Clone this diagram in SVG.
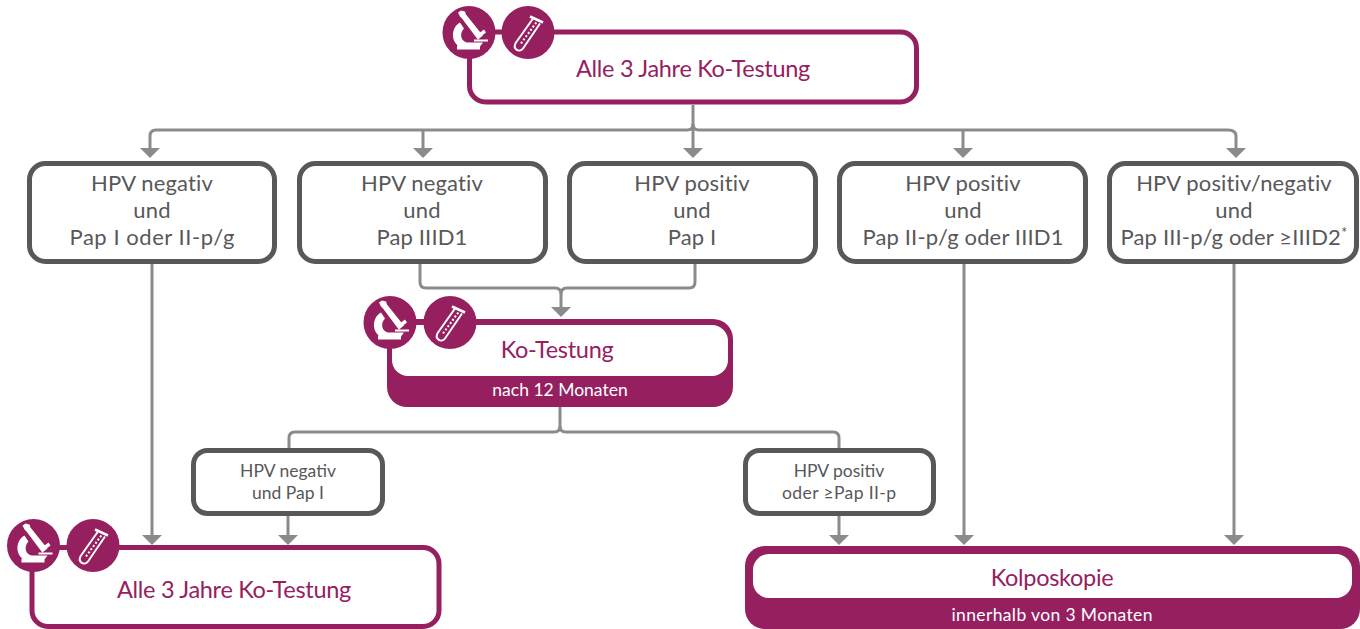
<svg xmlns="http://www.w3.org/2000/svg" width="1360" height="629" viewBox="0 0 1360 629">
<style>
text{font-family:"Lato","Open Sans","Liberation Sans",sans-serif;text-anchor:middle}
.g{fill:#fff;stroke:#58585a;stroke-width:5}
.p{fill:#fff;stroke:#96205f;stroke-width:5}
.gt{fill:#58585a;font-size:22px;letter-spacing:.15px}
.st{fill:#58585a;font-size:17.500px}
.pt{fill:#96205f;font-size:23.500px;letter-spacing:-.3px}
.wt{fill:#fff;font-size:17.500px}
.c{fill:none;stroke:#8a8b8c;stroke-width:3}
</style>
<defs>
<marker id="a" markerUnits="userSpaceOnUse" markerWidth="10" markerHeight="20" refX="0" refY="10" orient="auto" viewBox="0 0 10 20"><path d="M0 0L10 10L0 20Z" fill="#8a8b8c"/></marker>
<g id="mic"><circle r="26.500" fill="#96205f"/><path d="M-11-20l3-2 4 1 1 3 16 20 1 1-5 4-1-1L-7-14l-2-2zM11 0l4-3 2 3-4 3zM-9-10C-18-5-18 8-11 13H-12V17H11V14L14 10H-2C-8 9-10 1-5-4zM5 7H19V9H5z" fill="#fff"/></g>
<g id="tube"><circle r="26.500" fill="#96205f"/><path d="M5-14L-12 10C-16 16-9 21-5 16L12-9" fill="none" stroke="#fff" stroke-width="2"/><path d="M2-16L15-10" stroke="#fff" stroke-width="2.500"/><path d="M-7 11L9-11" stroke="#fff" stroke-width="2" stroke-dasharray="2 2"/></g>
</defs>
<g id="connectors">
<path class="c" d="M693 105V124Q693 130 687 130H156Q150 130 150 136V148" marker-end="url(#a)"/>
<path class="c" d="M423 130V148" marker-end="url(#a)"/>
<path class="c" d="M693 124V148" marker-end="url(#a)"/>
<path class="c" d="M693 124Q693 130 699 130H1228Q1236 130 1236 136V148" marker-end="url(#a)"/>
<path class="c" d="M963 130V148" marker-end="url(#a)"/>
<path class="c" d="M152 264V535" marker-end="url(#a)"/>
<path class="c" d="M964 264V535" marker-end="url(#a)"/>
<path class="c" d="M1234 264V535" marker-end="url(#a)"/>
<path class="c" d="M420 264V282Q420 288 426 288H555Q561 288 561 294V307" marker-end="url(#a)"/>
<path class="c" d="M695 264V282Q695 288 689 288H567Q561 288 561 294"/>
<path class="c" d="M560 407V426Q560 432 554 432H295Q289 432 289 438V448"/>
<path class="c" d="M560 426Q560 432 566 432H833Q839 432 839 438V448"/>
<path class="c" d="M288 516V535" marker-end="url(#a)"/>
<path class="c" d="M839 516V535" marker-end="url(#a)"/>
</g>
<g id="n1"><rect class="p" x="469.500" y="32" width="447" height="70" rx="16"/><use href="#mic" x="469" y="32.500"/><use href="#tube" x="528" y="32.500"/><text class="pt" x="693" y="77">Alle 3 Jahre Ko-Testung</text></g>
<g id="n2"><rect class="g" x="29.500" y="163.500" width="245" height="98" rx="16"/><text class="gt" x="152" y="191">HPV negativ</text><text class="gt" x="152" y="218">und</text><text class="gt" x="152" y="245" textLength="165">Pap I oder II-p/g</text></g>
<g id="n3"><rect class="g" x="299.500" y="163.500" width="246" height="98" rx="16"/><text class="gt" x="422" y="191">HPV negativ</text><text class="gt" x="422" y="218">und</text><text class="gt" x="422" y="245">Pap IIID1</text></g>
<g id="n4"><rect class="g" x="569.500" y="163.500" width="246" height="98" rx="16"/><text class="gt" x="692" y="191">HPV positiv</text><text class="gt" x="692" y="218">und</text><text class="gt" x="692" y="245">Pap I</text></g>
<g id="n5"><rect class="g" x="839.500" y="163.500" width="246" height="98" rx="16"/><text class="gt" x="963" y="191">HPV positiv</text><text class="gt" x="963" y="218">und</text><text class="gt" x="963" y="245">Pap II-p/g oder IIID1</text></g>
<g id="n6"><rect class="g" x="1109.500" y="163.500" width="247" height="98" rx="16"/><text class="gt" x="1234" y="191">HPV positiv/negativ</text><text class="gt" x="1234" y="218">und</text><text class="gt" x="1234" y="245">Pap III-p/g oder ≥IIID2<tspan font-size="15" dy="-7">*</tspan></text></g>
<g id="n7"><rect x="387" y="319" width="346" height="88" rx="20" fill="#96205f"/><rect x="392" y="325" width="336" height="51" rx="16" fill="#fff"/><use href="#mic" x="390" y="322.500"/><use href="#tube" x="450" y="322.500"/><text class="pt" x="557" y="358">Ko-Testung</text><text class="wt" x="560" y="396">nach 12 Monaten</text></g>
<g id="n8"><rect class="g" x="193.500" y="450.500" width="189" height="63" rx="14"/><text class="st" x="288" y="477">HPV negativ</text><text class="st" x="288" y="499">und Pap I</text></g>
<g id="n9"><rect class="g" x="745.500" y="450.500" width="188" height="63" rx="14"/><text class="st" x="839" y="477">HPV positiv</text><text class="st" x="839" y="499" textLength="114">oder ≥Pap II-p</text></g>
<g id="n10"><rect class="p" x="32" y="547.500" width="407" height="79" rx="16"/><use href="#mic" x="33.500" y="545.500"/><use href="#tube" x="93" y="545.500"/><text class="pt" x="234" y="598">Alle 3 Jahre Ko-Testung</text></g>
<g id="n11"><rect x="745" y="546" width="615" height="83" rx="20" fill="#96205f"/><rect x="753" y="554" width="599" height="44" rx="16" fill="#fff"/><text class="pt" x="1052" y="586">Kolposkopie</text><text class="wt" x="1052" y="621" textLength="201">innerhalb von 3 Monaten</text></g>
</svg>
